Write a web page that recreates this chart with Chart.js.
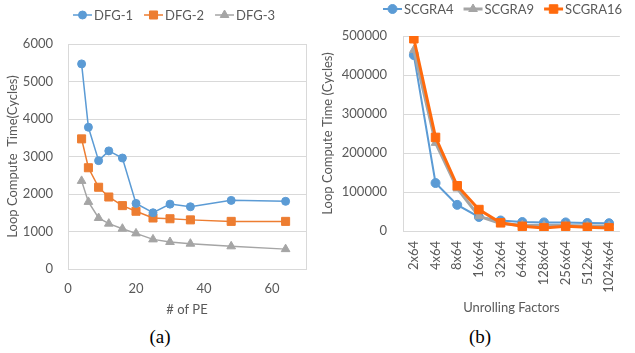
<!DOCTYPE html>
<html>
<head>
<meta charset="utf-8">
<script src="https://cdn.jsdelivr.net/npm/chart.js@4/dist/chart.umd.min.js"></script>
<style>
    body { margin: 0; background: #fff; width: 635px; height: 353px; position: relative; overflow: hidden; }
    #wrapA { position: absolute; left: 0; top: 0; width: 320px; height: 320px; }
    #wrapB { position: absolute; left: 320px; top: 0; width: 315px; height: 320px; }
    .cap { position: absolute; top: 326px; width: 60px; text-align: center;
           font-family: "Liberation Serif", serif; font-size: 19px; color: #000; }
</style>
</head>
<body>
<div id="wrapA"><canvas id="peChart"></canvas></div>
<div id="wrapB"><canvas id="unrollChart"></canvas></div>
<div class="cap" style="left:130px">(a)</div>
<div class="cap" style="left:450px">(b)</div>
<script>
// (a) loop compute time vs number of PEs
const peCounts = [4, 6, 9, 12, 16, 20, 25, 30, 36, 48, 64];
const dfg1 = [5470, 3780, 2890, 3150, 2960, 1750, 1500, 1730, 1660, 1830, 1805];
const dfg2 = [3470, 2700, 2180, 1920, 1690, 1540, 1360, 1340, 1310, 1270, 1270];
const dfg3 = [2350, 1790, 1360, 1210, 1075, 950, 790, 720, 675, 605, 530];

// (b) loop compute time vs unrolling factor
const unrollFactors = ['2x64', '4x64', '8x64', '16x64', '32x64', '64x64', '128x64', '256x64', '512x64', '1024x64'];
const scgra4 = [451000, 123000, 67000, 36000, 27000, 23000, 22000, 22000, 20500, 20000];
const scgra9 = [464000, 226000, 109000, 38000, 19000, 15000, 14000, 14000, 13000, 13000];
const scgra16 = [493000, 240000, 116000, 55000, 21000, 12000, 8000, 12000, 9500, 8000];

const BLUE = '#5B9BD5';
const ORANGE = '#ED7D31';
const ORANGE_B = '#FF6A0D';
const GRAY = '#A5A5A5';
const TEXT = '#595959';
const GRID = '#D9D9D9';
const FONT = 'Lato';

// legend with a short line through each marker, like Excel draws it
const lineLegend = {
    id: 'lineLegend',
    afterDraw(chart, args, opts) {
        const ctx = chart.ctx;
        ctx.save();
        ctx.font = opts.fontSize + 'px ' + FONT;
        ctx.textBaseline = 'middle';
        let x = opts.x;
        chart.data.datasets.forEach(ds => {
            ctx.strokeStyle = ds.borderColor;
            ctx.fillStyle = ds.borderColor;
            ctx.lineWidth = ds.borderWidth;
            ctx.beginPath();
            ctx.moveTo(x, opts.y);
            ctx.lineTo(x + 19, opts.y);
            ctx.stroke();
            ctx.lineWidth = 1;
            Chart.helpers.drawPoint(ctx, {
                pointStyle: ds.pointStyle, radius: ds.pointRadius, rotation: 0, borderWidth: 1
            }, x + 9.5, opts.y);
            ctx.fillStyle = TEXT;
            ctx.fillText(ds.label, x + 21, opts.y + 1);
            x += 21 + ctx.measureText(ds.label).width + opts.gap;
        });
        ctx.restore();
    }
};

// light box round the plot area of (a)
const plotBox = {
    id: 'plotBox',
    beforeDatasetsDraw(chart, args, opts) {
        if (!opts.show) return;
        const a = chart.chartArea;
        const ctx = chart.ctx;
        ctx.save();
        ctx.strokeStyle = GRID;
        ctx.lineWidth = 1;
        ctx.strokeRect(Math.round(a.left) + 0.5, Math.round(a.top) + 0.5,
            Math.round(a.right - a.left), Math.round(a.bottom - a.top));
        ctx.restore();
    }
};

Chart.register(lineLegend, plotBox);

function series(label, data, color, style, radius, width, order) {
    return {
        label: label,
        data: data,
        borderColor: color,
        backgroundColor: color,
        pointBackgroundColor: color,
        pointBorderColor: color,
        pointBorderWidth: 1,
        pointStyle: style,
        pointRadius: radius,
        borderWidth: width,
        tension: 0,
        order: order
    };
}

const plain = v => String(v);

new Chart(document.getElementById('peChart'), {
    type: 'line',
    data: {
        datasets: [
            series('DFG-1', peCounts.map((p, i) => ({ x: p, y: dfg1[i] })), BLUE, 'circle', 4, 1.5, 0),
            series('DFG-2', peCounts.map((p, i) => ({ x: p, y: dfg2[i] })), ORANGE, 'rect', 5.7, 1.5, 1),
            series('DFG-3', peCounts.map((p, i) => ({ x: p, y: dfg3[i] })), GRAY, 'triangle', 5, 1.5, 2)
        ]
    },
    options: {
        responsive: true,
        maintainAspectRatio: false,
        animation: false,
        layout: { padding: { top: 44, right: 14, left: 0, bottom: 0 } },
        plugins: {
            legend: { display: false },
            tooltip: { enabled: false },
            lineLegend: { x: 73, y: 15, gap: 11, fontSize: 13 },
            plotBox: { show: true }
        },
        scales: {
            x: {
                type: 'linear',
                min: 0,
                max: 70,
                afterBuildTicks: s => { s.ticks = s.ticks.filter(t => t.value % 20 === 0); },
                afterFit: s => { s.height = 51; },
                grid: { display: false, drawTicks: false },
                border: { display: false },
                ticks: { stepSize: 20, padding: 12, callback: plain, color: TEXT, font: { family: FONT, size: 13 } },
                title: { display: true, text: '# of PE', color: TEXT, padding: { top: 0, bottom: 2 },
                         font: { family: FONT, size: 13 } }
            },
            y: {
                min: 0,
                max: 6000,
                afterFit: s => { s.width = 68; },
                grid: { color: GRID, drawTicks: false },
                border: { display: false },
                ticks: { stepSize: 1000, padding: 15, callback: plain, color: TEXT, font: { family: FONT, size: 13 } },
                title: { display: true, text: 'Loop Compute  Time(Cycles)', color: TEXT,
                         padding: { top: 5, bottom: 0 }, font: { family: FONT, size: 13 } }
            }
        }
    }
});

new Chart(document.getElementById('unrollChart'), {
    type: 'line',
    data: {
        labels: unrollFactors,
        datasets: [
            series('SCGRA4', scgra4, BLUE, 'circle', 4.5, 2, 2),
            series('SCGRA9', scgra9, GRAY, 'triangle', 5, 3, 1),
            series('SCGRA16', scgra16, ORANGE_B, 'rect', 6, 3, 0)
        ]
    },
    options: {
        responsive: true,
        maintainAspectRatio: false,
        animation: false,
        layout: { padding: { top: 36, right: 1, left: 0, bottom: 0 } },
        plugins: {
            legend: { display: false },
            tooltip: { enabled: false },
            lineLegend: { x: 63, y: 9, gap: 10, fontSize: 13 },
            plotBox: { show: false }
        },
        scales: {
            x: {
                offset: true,
                afterFit: s => { s.height = 89; },
                grid: { display: false, drawTicks: false },
                border: { display: false },
                ticks: { minRotation: 90, maxRotation: 90, padding: 10, autoSkip: false,
                         color: TEXT, font: { family: FONT, size: 13 } },
                title: { display: true, text: 'Unrolling Factors', color: TEXT, padding: { top: 0, bottom: 4 },
                         font: { family: FONT, size: 13 } }
            },
            y: {
                min: 0,
                max: 500000,
                afterFit: s => { s.width = 83; },
                grid: { color: GRID, drawTicks: false },
                border: { display: true, color: GRID },
                ticks: { stepSize: 100000, padding: 16, callback: plain, color: TEXT, font: { family: FONT, size: 13 } },
                title: { display: true, text: 'Loop Compute Time (Cycles)', color: TEXT,
                         padding: { top: 0, bottom: 0 }, font: { family: FONT, size: 13 } }
            }
        }
    }
});
</script>
</body>
</html>
